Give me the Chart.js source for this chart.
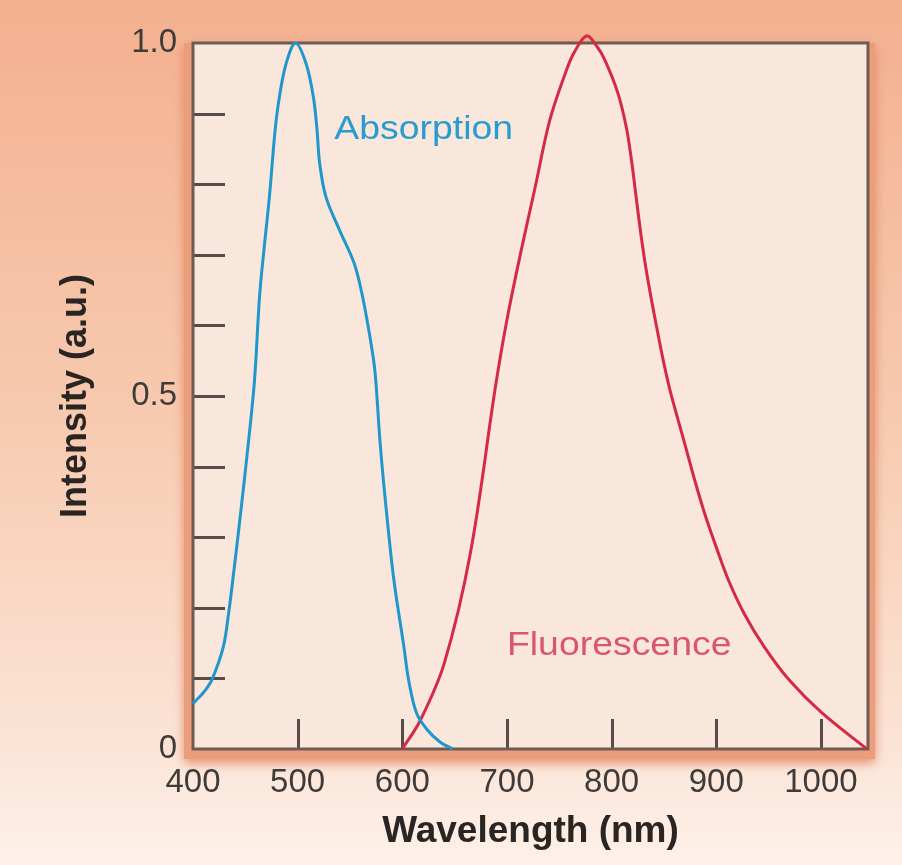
<!DOCTYPE html>
<html><head><meta charset="utf-8">
<script src="https://cdn.jsdelivr.net/npm/chart.js@4.4.1/dist/chart.umd.min.js"></script>
<style>html,body{margin:0;padding:0;background:#fbeee5;}canvas{display:block;}</style>
</head><body>
<canvas id="c" width="902" height="865"></canvas>
<script>
// ---- data ----
const absorptionX = [400, 403, 410, 418, 429, 434, 438, 445.5, 452.5, 458.8, 463.6, 468, 473, 478.5, 482.6, 489, 498, 508, 515, 518.5, 521, 527, 540, 554, 562, 568, 573, 575, 579, 585, 592, 601.5, 606, 613.6, 624, 636, 648];
const absorptionY = [0.064, 0.069, 0.08, 0.098, 0.145, 0.192, 0.239, 0.334, 0.428, 0.523, 0.641, 0.71, 0.782, 0.877, 0.924, 0.971, 1.0, 0.971, 0.924, 0.877, 0.83, 0.782, 0.735, 0.688, 0.641, 0.593, 0.546, 0.515, 0.43, 0.334, 0.239, 0.145, 0.098, 0.051, 0.027, 0.01, 0.0];
const fluorescenceX = [600, 617, 640, 665, 689, 700, 713, 727, 741, 757, 764, 776, 786, 793.5, 806, 814, 819, 823, 827, 831.5, 837, 843, 849, 855, 860, 864.5, 869.6, 879, 888.6, 899.7, 911.7, 926.6, 945.7, 969.5, 1001, 1044];
const fluorescenceY = [0.0, 0.04, 0.121, 0.277, 0.513, 0.608, 0.702, 0.796, 0.891, 0.962, 0.986, 1.01, 0.995, 0.976, 0.929, 0.881, 0.834, 0.787, 0.74, 0.693, 0.645, 0.598, 0.553, 0.513, 0.485, 0.461, 0.434, 0.383, 0.335, 0.287, 0.239, 0.192, 0.145, 0.098, 0.051, 0.0];
const seriesNames = ['Absorption', 'Fluorescence'];
const seriesLabelX = [535, 700];
const seriesLabelY = [0.877, 0.147];
const xTickValues = [400, 500, 600, 700, 800, 900, 1000];
const yLabelValues = [0, 0.5, 1.0];
const yLabelTexts = ['0', '0.5', '1.0'];
const xTitle = 'Wavelength (nm)';
const yTitle = 'Intensity (a.u.)';

const FONT = "'Liberation Sans', Arial, Helvetica, sans-serif";
const colors = ['#1f97cc', '#d42a45'];
const labelColors = ['#2a9bcf', '#da5572'];

const toPoints = (xs, ys) => xs.map((x, i) => ({x: x, y: ys[i]}));

const decor = {
  id: 'decor',
  beforeDraw(chart) {
    const {ctx, width, height, chartArea: a} = chart;
    ctx.save();
    const g = ctx.createLinearGradient(0, 0, 0, height);
    g.addColorStop(0, '#f3b08f');
    g.addColorStop(0.45, '#f7c8ad');
    g.addColorStop(0.85, '#fbe3d5');
    g.addColorStop(1, '#fdf1e9');
    ctx.fillStyle = g;
    ctx.fillRect(0, 0, width, height);
    ctx.shadowColor = 'rgba(226,128,88,0.85)';
    ctx.shadowBlur = 10;
    ctx.shadowOffsetY = 4;
    ctx.fillStyle = '#eb9e7b';
    ctx.fillRect(a.left - 9, a.top, a.width + 16, a.height + 10);
    ctx.shadowColor = 'transparent';
    ctx.fillStyle = '#f9e7dc';
    ctx.fillRect(a.left, a.top, a.width, a.height);
    ctx.restore();
  },
  beforeDatasetsDraw(chart) {
    const {ctx, chartArea: a, scales} = chart;
    ctx.save();
    ctx.strokeStyle = '#574c47';
    ctx.lineWidth = 3;
    ctx.beginPath();
    scales.y.ticks.forEach(t => {
      if (t.value > 0.001 && t.value < 0.999) {
        const py = Math.round(scales.y.getPixelForValue(t.value)) + 0.5;
        ctx.moveTo(a.left, py); ctx.lineTo(a.left + 32, py);
      }
    });
    scales.x.ticks.forEach(t => {
      if (t.value > scales.x.min + 1 && t.value < scales.x.max - 1) {
        const px = Math.round(scales.x.getPixelForValue(t.value)) + 0.5;
        ctx.moveTo(px, a.bottom); ctx.lineTo(px, a.bottom - 30);
      }
    });
    ctx.stroke();
    ctx.strokeStyle = '#6e5b52';
    ctx.lineWidth = 3;
    ctx.strokeRect(a.left, a.top, a.width, a.height);
    ctx.restore();
  },
  afterDatasetsDraw(chart) {
    const {ctx, scales} = chart;
    ctx.save();
    ctx.font = '34px ' + FONT;
    ctx.textBaseline = 'middle';
    ctx.textAlign = 'left';
    seriesNames.forEach((name, i) => {
      const px = scales.x.getPixelForValue(seriesLabelX[i]);
      const py = scales.y.getPixelForValue(seriesLabelY[i]);
      ctx.save();
      ctx.translate(px, py);
      ctx.scale(1.1, 1);
      ctx.fillStyle = labelColors[i];
      ctx.fillText(name, 0, 0);
      ctx.restore();
    });
    ctx.restore();
  }
};

new Chart(document.getElementById('c'), {
  type: 'line',
  data: {
    datasets: [
      {label: seriesNames[0], data: toPoints(absorptionX, absorptionY), borderColor: colors[0], borderWidth: 3, tension: 0.35, pointRadius: 0, fill: false, clip: false},
      {label: seriesNames[1], data: toPoints(fluorescenceX, fluorescenceY), borderColor: colors[1], borderWidth: 3, tension: 0.35, pointRadius: 0, fill: false, clip: false}
    ]
  },
  options: {
    responsive: false,
    animation: false,
    layout: {padding: {left: 0, top: 43, right: 34, bottom: 0}},
    plugins: {legend: {display: false}, tooltip: {enabled: false}},
    scales: {
      x: {
        type: 'linear', min: 400, max: 1045,
        afterFit(s) { s.height = 116; },
        afterBuildTicks(s) { s.ticks = xTickValues.map(v => ({value: v})); },
        grid: {display: false, drawTicks: false},
        border: {display: false},
        ticks: {padding: 14, autoSkip: false, maxRotation: 0,
          color: '#3f3b39', font: {family: FONT, size: 33},
          callback(v) { return String(v); }},
        title: {display: true, text: xTitle, color: '#2a2422', font: {family: FONT, size: 37, weight: 'bold'}, padding: {top: 0, bottom: 11}}
      },
      y: {
        type: 'linear', min: 0, max: 1,
        afterFit(s) { s.width = 193; },
        grid: {display: false, drawTicks: false},
        border: {display: false},
        ticks: {stepSize: 0.1, padding: 16, autoSkip: false,
          color: '#3f3b39', font: {family: FONT, size: 33},
          callback(v) { const i = yLabelValues.findIndex(t => Math.abs(t - v) < 1e-6); return i >= 0 ? yLabelTexts[i] : ''; }},
        title: {display: true, text: yTitle, color: '#2a2422', font: {family: FONT, size: 36, weight: 'bold'}, padding: {top: 54, bottom: 0}}
      }
    }
  },
  plugins: [decor]
});
</script>
</body></html>
